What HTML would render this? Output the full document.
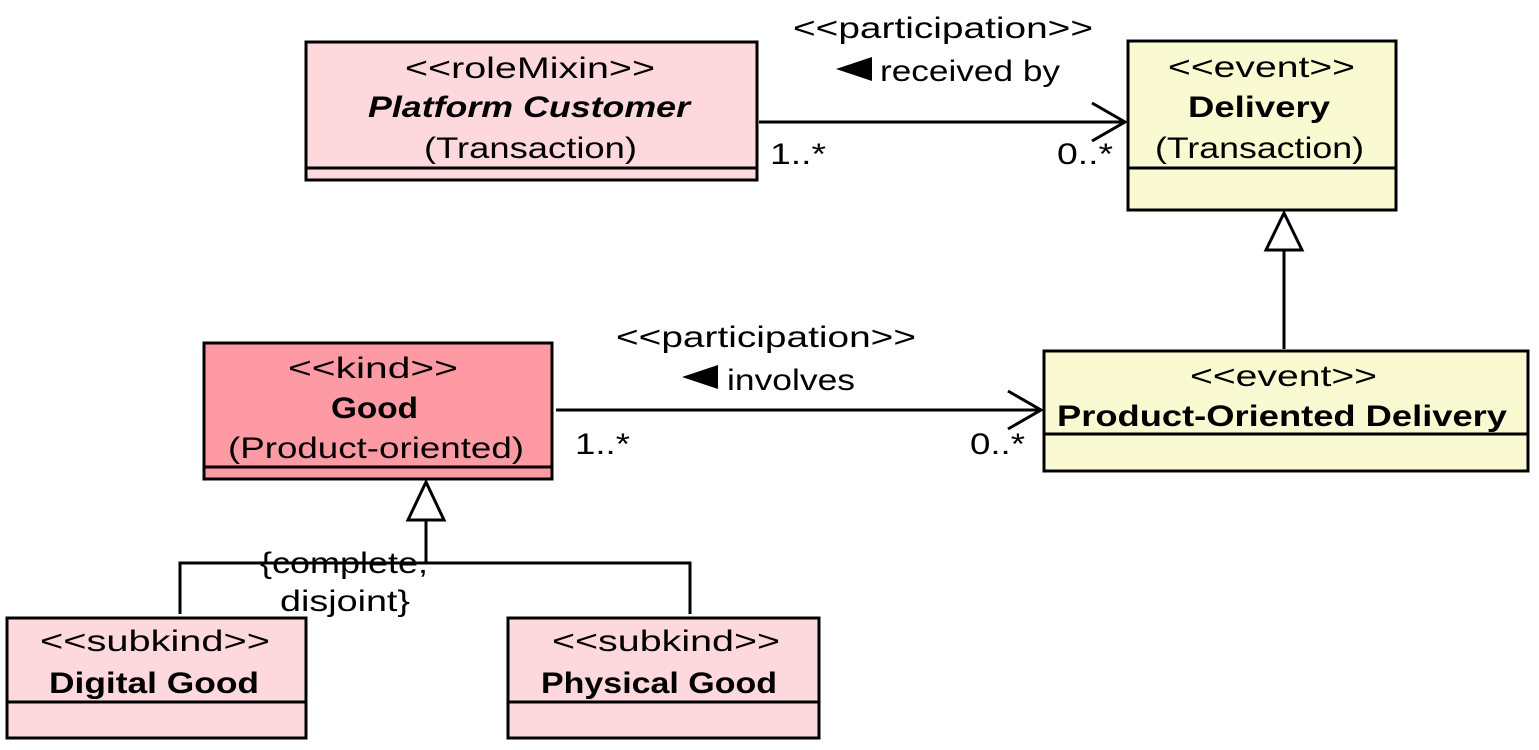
<!DOCTYPE html>
<html><head><meta charset="utf-8"><style>
html,body{margin:0;padding:0;background:#fff;}
svg{display:block;font-family:"Liberation Sans",sans-serif;}
</style></head><body>
<svg width="1539" height="750" viewBox="0 0 1539 750" xmlns="http://www.w3.org/2000/svg">
<g stroke="#000" stroke-width="3">
<rect x="306" y="42" width="451" height="138" fill="#fdd8dc"/>
<line x1="306" y1="168" x2="757" y2="168"/>
<rect x="1128" y="41" width="268" height="169" fill="#fafad2"/>
<line x1="1128" y1="168" x2="1396" y2="168"/>
<rect x="204" y="343" width="348" height="136" fill="#fd9aa4"/>
<line x1="204" y1="467" x2="552" y2="467"/>
<rect x="1044" y="351" width="484" height="120" fill="#fafad2"/>
<line x1="1044" y1="434" x2="1528" y2="434"/>
<rect x="7" y="618" width="299" height="120" fill="#fdd8dc"/>
<line x1="7" y1="702" x2="306" y2="702"/>
<rect x="508" y="618" width="311" height="120" fill="#fdd8dc"/>
<line x1="508" y1="702" x2="819" y2="702"/>
</g>
<g stroke="#000" stroke-width="3" fill="none">
<line x1="759" y1="122" x2="1125" y2="122"/>
<polyline points="1092,103 1125,122 1092,141"/>
<line x1="556" y1="410" x2="1041" y2="410"/>
<polyline points="1008,391 1041,410 1008,429"/>
<line x1="1284" y1="250" x2="1284" y2="349"/>
<polygon points="1284,213 1266,250 1302,250" fill="#fff"/>
<line x1="426" y1="520" x2="426" y2="563"/>
<polygon points="426,482 408,520 444,520" fill="#fff"/>
<polyline points="180,614 180,563 690,563 690,614"/>
</g>
<g font-size="30" fill="#000">
<text x="405" y="78" textLength="250" lengthAdjust="spacingAndGlyphs">&lt;&lt;roleMixin&gt;&gt;</text>
<text x="368" y="117" font-weight="bold" font-style="italic" textLength="322" lengthAdjust="spacingAndGlyphs">Platform Customer</text>
<text x="424" y="158" textLength="213" lengthAdjust="spacingAndGlyphs">(Transaction)</text>
<text x="1168" y="77" textLength="187" lengthAdjust="spacingAndGlyphs">&lt;&lt;event&gt;&gt;</text>
<text x="1188" y="117" font-weight="bold" textLength="142" lengthAdjust="spacingAndGlyphs">Delivery</text>
<text x="1155" y="158" textLength="209" lengthAdjust="spacingAndGlyphs">(Transaction)</text>
<text x="288" y="378" textLength="170" lengthAdjust="spacingAndGlyphs">&lt;&lt;kind&gt;&gt;</text>
<text x="331" y="418" font-weight="bold" textLength="87" lengthAdjust="spacingAndGlyphs">Good</text>
<text x="228" y="458" textLength="296" lengthAdjust="spacingAndGlyphs">(Product-oriented)</text>
<text x="1190" y="386" textLength="187" lengthAdjust="spacingAndGlyphs">&lt;&lt;event&gt;&gt;</text>
<text x="1057" y="426" font-weight="bold" textLength="450" lengthAdjust="spacingAndGlyphs">Product-Oriented Delivery</text>
<text x="40" y="651" textLength="230" lengthAdjust="spacingAndGlyphs">&lt;&lt;subkind&gt;&gt;</text>
<text x="49" y="693" font-weight="bold" textLength="210" lengthAdjust="spacingAndGlyphs">Digital Good</text>
<text x="552" y="651" textLength="228" lengthAdjust="spacingAndGlyphs">&lt;&lt;subkind&gt;&gt;</text>
<text x="541" y="693" font-weight="bold" textLength="236" lengthAdjust="spacingAndGlyphs">Physical Good</text>
<text x="793" y="38" textLength="300" lengthAdjust="spacingAndGlyphs">&lt;&lt;participation&gt;&gt;</text>
<text x="880" y="81" textLength="180" lengthAdjust="spacingAndGlyphs">received by</text>
<text x="616" y="347" textLength="300" lengthAdjust="spacingAndGlyphs">&lt;&lt;participation&gt;&gt;</text>
<text x="727" y="390" textLength="128" lengthAdjust="spacingAndGlyphs">involves</text>
<text x="260" y="573" textLength="168" lengthAdjust="spacingAndGlyphs">{complete,</text>
<text x="280" y="611" textLength="130" lengthAdjust="spacingAndGlyphs">disjoint}</text>
<text x="770" y="164" textLength="56" lengthAdjust="spacingAndGlyphs">1..*</text>
<text x="1057" y="164" textLength="56" lengthAdjust="spacingAndGlyphs">0..*</text>
<text x="575" y="454" textLength="55" lengthAdjust="spacingAndGlyphs">1..*</text>
<text x="970" y="454" textLength="55" lengthAdjust="spacingAndGlyphs">0..*</text>
</g>
<polygon points="836,69 872,57 872,81" fill="#000"/>
<polygon points="682,377 718,365 718,389" fill="#000"/>
</svg>
</body></html>
